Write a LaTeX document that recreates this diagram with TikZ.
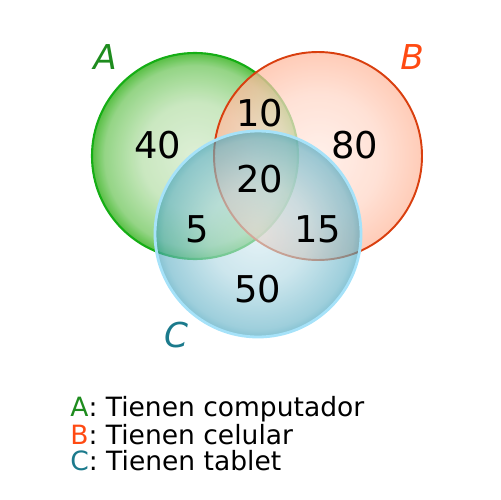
\documentclass[tikz,border=0pt]{standalone}
\usepackage{fontspec}
\setmainfont{DejaVu Sans}
\usepackage{xcolor}
\usetikzlibrary{positioning}

\definecolor{verdeA}{HTML}{1E8C1E}
\definecolor{naranjaB}{HTML}{FF4A12}
\definecolor{azulC}{HTML}{1B7A8C}
\definecolor{verdeIn}{HTML}{DCEED4}
\definecolor{verdeOut}{HTML}{4FBC3A}
\definecolor{naranjaIn}{HTML}{FFEAE2}
\definecolor{naranjaOut}{HTML}{FFB89C}
\definecolor{azulIn}{HTML}{D4EAF0}
\definecolor{azulOut}{HTML}{3C9EB8}

% the circle edge sits at 25bp
\pgfdeclareradialshading{bolaA}{\pgfpoint{0bp}{0bp}}{color(0bp)=(verdeIn); color(13bp)=(verdeIn!85!verdeOut); color(22bp)=(verdeIn!45!verdeOut); color(25bp)=(verdeOut); color(50bp)=(verdeOut)}
\pgfdeclareradialshading{bolaB}{\pgfpoint{0bp}{0bp}}{color(0bp)=(naranjaIn); color(15bp)=(naranjaIn!60!naranjaOut); color(25bp)=(naranjaOut); color(50bp)=(naranjaOut)}
\pgfdeclareradialshading{bolaC}{\pgfpoint{0bp}{0bp}}{color(0bp)=(azulIn); color(12bp)=(azulIn!75!azulOut); color(23bp)=(azulIn!25!azulOut); color(25bp)=(azulOut); color(50bp)=(azulOut)}

\begin{document}
\begin{tikzpicture}[x=0.02cm, y=-0.02cm,
    num/.style={font=\fontsize{21}{21}\selectfont},
    setlabel/.style={font=\fontsize{19.5}{19.5}\selectfont\itshape},
    legend/.style={font=\fontsize{15.1}{15.1}\selectfont, anchor=base west, inner sep=0pt}]
      \useasboundingbox (0, 0) rectangle (500, 500);

      % circles
      \shade[shading=bolaA, fill opacity=0.95] (195, 156) circle (103);
      \draw[verdeA!70!green, line width=1.2pt] (195, 156) circle (103);

      \shade[shading=bolaB, fill opacity=0.72] (318, 156) circle (104);
      \draw[naranjaB!85!black, line width=1.1pt] (318, 156) circle (104);

      \shade[shading=bolaC, fill opacity=0.62] (258, 234) circle (103);
      \draw[cyan!35!white, line width=1.6pt] (258, 234) circle (103);

      % set names
      \node[setlabel, text=verdeA] (labA) at (105, 57) {A};
      \node[setlabel, text=naranjaB] (labB) at (412, 57) {B};
      \node[setlabel, text=azulC] (labC) at (176, 335) {C};

      % counts
      \node[num] (soloA) at (158, 145) {40};
      \node[num] (AB) at (260, 113) {10};
      \node[num] (soloB) at (355, 145) {80};
      \node[num] (ABC) at (260, 179) {20};
      \node[num] (AC) at (197, 229) {5};
      \node[num] (BC) at (318, 229) {15};
      \node[num] (soloC) at (258, 289) {50};

      % legend
      \node[legend] (legA) at (70, 416) {\textcolor{verdeA}{A}: Tienen computador};
      \node[legend, below=16.4pt of legA.base west, anchor=base west] (legB) {\textcolor{naranjaB}{B}: Tienen celular};
      \node[legend, below=14.6pt of legB.base west, anchor=base west] (legC) {\textcolor{azulC}{C}: Tienen tablet};
    \end{tikzpicture}
\end{document}
